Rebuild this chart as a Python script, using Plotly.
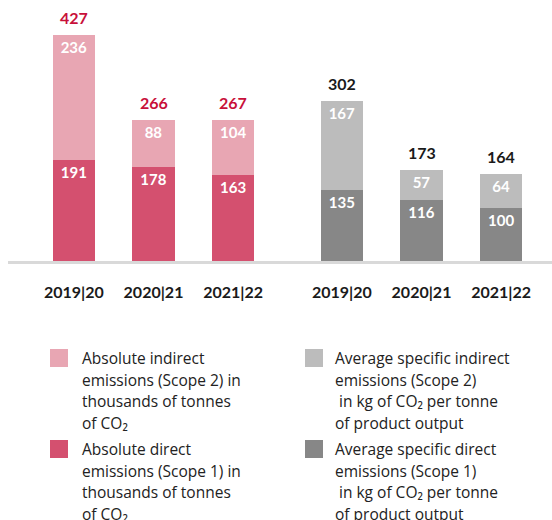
import plotly.graph_objects as go

# Fiscal years
years = ["2019|20", "2020|21", "2021|22"]

# Absolute emissions, thousands of tonnes CO2
abs_direct = [191, 178, 163]     # Scope 1
abs_indirect = [236, 88, 104]    # Scope 2

# Specific emissions, kg CO2 per tonne of product output
spec_direct = [135, 116, 100]    # Scope 1
spec_indirect = [167, 57, 64]    # Scope 2

abs_total = [d + i for d, i in zip(abs_direct, abs_indirect)]
spec_total = [d + i for d, i in zip(spec_direct, spec_indirect)]

# Legend entries (colour key, text lines)
legend_left = [
    ["Absolute indirect", "emissions (Scope 2) in", "thousands of tonnes", "of CO₂"],
    ["Absolute direct", "emissions (Scope 1) in", "thousands of tonnes", "of CO₂"],
]
legend_right = [
    ["Average specific indirect", "emissions (Scope 2)", " in kg of CO₂ per tonne", "of product output"],
    ["Average specific direct", "emissions (Scope 1)", " in kg of CO₂ per tonne", "of product output"],
]

PINK_LIGHT = "#e8a6b3"
PINK_DARK = "#d4506f"
GREY_LIGHT = "#bcbcbc"
GREY_DARK = "#878787"
RED_TEXT = "#c8103a"
DARK_TEXT = "#1a1a1a"

W, H = 552, 520
BASE_PX = 261  # pixel row of the baseline

LABEL_FONT = "Lato"
BODY_FONT = "Open Sans"

fig = go.Figure()


def add_bar(x, y, color, xaxis):
    fig.add_trace(go.Bar(
        x=x, y=y, marker=dict(color=color, line=dict(width=0)),
        text=[str(v) for v in y], textposition="inside",
        insidetextanchor="end", textangle=0,
        textfont=dict(family=LABEL_FONT, size=15, color="white", weight="bold"),
        xaxis=xaxis, yaxis="y", showlegend=False, hoverinfo="skip",
    ))


add_bar(years, abs_direct, PINK_DARK, "x")
add_bar(years, abs_indirect, PINK_LIGHT, "x")
add_bar(years, spec_direct, GREY_DARK, "x2")
add_bar(years, spec_indirect, GREY_LIGHT, "x2")

annotations = []
for yr, tot in zip(years, abs_total):
    annotations.append(dict(x=yr, y=tot, xref="x", yref="y", text=f"<b>{tot}</b>",
                            showarrow=False, yanchor="bottom", yshift=6,
                            font=dict(family=LABEL_FONT, size=16, color=RED_TEXT)))
for yr, tot in zip(years, spec_total):
    annotations.append(dict(x=yr, y=tot, xref="x2", yref="y", text=f"<b>{tot}</b>",
                            showarrow=False, yanchor="bottom", yshift=6,
                            font=dict(family=LABEL_FONT, size=16, color=DARK_TEXT)))


def py_to_paper(py):
    # pixel row -> paper coordinate (paper 0 sits on the baseline)
    return (BASE_PX - py) / BASE_PX


shapes = [
    # baseline rule
    dict(type="line", xref="paper", yref="paper", x0=8 / W, x1=1,
         y0=py_to_paper(BASE_PX + 1.5), y1=py_to_paper(BASE_PX + 1.5),
         line=dict(color="#d9d9d9", width=3), layer="above"),
]

LINE_STEP = 21.7


def add_legend_block(entries, colors, sw_x, txt_x, tops):
    for lines, color, top in zip(entries, colors, tops):
        shapes.append(dict(type="rect", xref="paper", yref="paper",
                           x0=sw_x / W, x1=(sw_x + 18) / W,
                           y0=py_to_paper(top), y1=py_to_paper(top + 18),
                           fillcolor=color, line=dict(width=0)))
        for i, line in enumerate(lines):
            cy = top + 9 + i * LINE_STEP
            annotations.append(dict(x=txt_x / W, y=py_to_paper(cy), xref="paper", yref="paper",
                                    text=line, showarrow=False, xanchor="left", yanchor="middle",
                                    font=dict(family=BODY_FONT, size=15.5, color="#222222")))


add_legend_block(legend_left, [PINK_LIGHT, PINK_DARK], 50, 80, [349, 440])
add_legend_block(legend_right, [GREY_LIGHT, GREY_DARK], 305, 333, [349, 440])

axis_common = dict(
    type="category", showgrid=False, zeroline=False, showline=False,
    ticks="outside", ticklen=17, tickcolor="rgba(0,0,0,0)",
    tickfont=dict(family=LABEL_FONT, size=16, color=DARK_TEXT, weight="bold"),
    fixedrange=True,
)

fig.update_layout(
    width=W, height=H,
    margin=dict(l=0, r=0, t=0, b=H - BASE_PX),
    paper_bgcolor="white", plot_bgcolor="white",
    barmode="stack", bargap=0.47,
    showlegend=False,
    xaxis=dict(domain=[34 / W, 273 / W], anchor="y", **axis_common),
    xaxis2=dict(domain=[302 / W, 541 / W], anchor="y", **axis_common),
    yaxis=dict(range=[0, 494], visible=False, fixedrange=True),
    annotations=annotations,
    shapes=shapes,
    uniformtext=dict(minsize=15, mode="show"),
)

fig.write_html("out.html")
